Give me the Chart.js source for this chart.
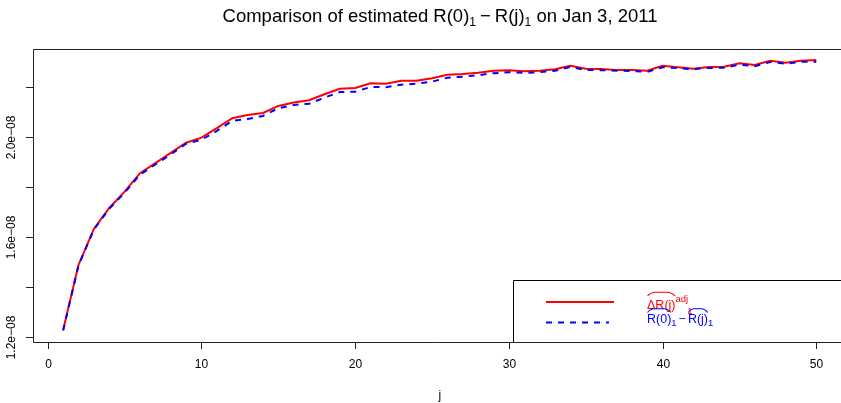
<!DOCTYPE html>
<html>
<head>
<meta charset="utf-8">
<script src="https://cdn.jsdelivr.net/npm/chart.js@4"></script>
<style>
  html, body { margin: 0; padding: 0; background: #fff; }
  canvas { display: block; }
</style>
</head>
<body>
<canvas id="c" width="841" height="403"></canvas>
<script>
// values in units of 1e-08
const lags = [1, 2, 3, 4, 5, 6, 7, 8, 9, 10, 11, 12, 13, 14, 15, 16, 17, 18, 19, 20,
  21, 22, 23, 24, 25, 26, 27, 28, 29, 30, 31, 32, 33, 34, 35, 36, 37, 38, 39, 40,
  41, 42, 43, 44, 45, 46, 47, 48, 49, 50];
const adjDiff = [1.227, 1.487, 1.631, 1.715, 1.780, 1.854, 1.894, 1.935, 1.976, 1.996,
  2.034, 2.074, 2.087, 2.095, 2.123, 2.137, 2.146, 2.170, 2.192, 2.195,
  2.214, 2.212, 2.224, 2.224, 2.234, 2.248, 2.251, 2.256, 2.264, 2.266,
  2.262, 2.264, 2.270, 2.284, 2.272, 2.271, 2.267, 2.267, 2.264, 2.284,
  2.278, 2.272, 2.279, 2.280, 2.294, 2.287, 2.304, 2.296, 2.304, 2.307];
const rawDiff = [1.225, 1.485, 1.629, 1.712, 1.776, 1.848, 1.889, 1.929, 1.972, 1.988,
  2.023, 2.063, 2.071, 2.083, 2.114, 2.127, 2.132, 2.156, 2.179, 2.180,
  2.199, 2.198, 2.208, 2.212, 2.220, 2.236, 2.240, 2.246, 2.254, 2.258,
  2.255, 2.258, 2.264, 2.279, 2.267, 2.266, 2.264, 2.263, 2.259, 2.278,
  2.274, 2.270, 2.275, 2.276, 2.288, 2.282, 2.299, 2.292, 2.300, 2.300];

const xTicks = [0, 10, 20, 30, 40, 50];
const yTicks = [1.2, 1.4, 1.6, 1.8, 2.0, 2.2];
const yTickLabels = ["1.2e\u221208", "", "1.6e\u221208", "", "2.0e\u221208", ""];

const FONT = "'Liberation Sans', Arial, sans-serif";
const RED = "#ff0000";
const BLUE = "#0000ff";

// draw text pieces left to right, returns end x
function drawRich(ctx, x, y, parts) {
  parts.forEach(p => {
    ctx.font = `${p.size}px ${FONT}`;
    const w = ctx.measureText(p.t).width;
    ctx.fillText(p.t, x, y + (p.dy || 0));
    if (p.hat) drawHat(ctx, x, y - p.hat, w);
    x += w + (p.gap || 0);
  });
  return x;
}

function richWidth(ctx, parts) {
  let w = 0;
  parts.forEach(p => {
    ctx.font = `${p.size}px ${FONT}`;
    w += ctx.measureText(p.t).width + (p.gap || 0);
  });
  return w;
}

// widehat over a run of text, y = bottom of the hat
function drawHat(ctx, x, y, w) {
  ctx.save();
  ctx.lineWidth = 1.1;
  ctx.strokeStyle = ctx.fillStyle;
  ctx.beginPath();
  ctx.moveTo(x + 0.5, y);
  ctx.quadraticCurveTo(x + w * 0.12, y - 3.5, x + w * 0.3, y - 3.8);
  ctx.lineTo(x + w * 0.7, y - 3.8);
  ctx.quadraticCurveTo(x + w * 0.88, y - 3.5, x + w - 0.5, y);
  ctx.stroke();
  ctx.restore();
}

const rStyle = {
  id: "rStyle",
  beforeDraw(chart) {
    const ctx = chart.ctx;
    ctx.save();
    ctx.fillStyle = "#fff";
    ctx.fillRect(0, 0, chart.width, chart.height);
    ctx.restore();
  },
  afterDraw(chart) {
    const ctx = chart.ctx;
    const a = chart.chartArea;
    const xs = chart.scales.x, ys = chart.scales.y;
    ctx.save();
    ctx.strokeStyle = "#222";
    ctx.fillStyle = "#000";
    ctx.lineWidth = 1;

    // box (right side lies past the canvas edge)
    ctx.beginPath();
    ctx.moveTo(chart.width, a.top + 0.5);
    ctx.lineTo(a.left + 0.5, a.top + 0.5);
    ctx.lineTo(a.left + 0.5, a.bottom + 0.5);
    ctx.lineTo(chart.width, a.bottom + 0.5);
    ctx.stroke();

    // x axis
    ctx.font = `12px ${FONT}`;
    ctx.textAlign = "center";
    ctx.textBaseline = "middle";
    xTicks.forEach(t => {
      const px = Math.round(xs.getPixelForValue(t)) + 0.5;
      ctx.beginPath();
      ctx.moveTo(px, a.bottom);
      ctx.lineTo(px, a.bottom + 7);
      ctx.stroke();
      ctx.fillText(String(t), px, 365);
    });
    ctx.fillText("j", (a.left + xs.getPixelForValue(51.96)) / 2, 396);

    // y axis
    yTicks.forEach((t, i) => {
      const py = Math.round(ys.getPixelForValue(t)) + 0.5;
      ctx.beginPath();
      ctx.moveTo(a.left, py);
      ctx.lineTo(a.left - 7, py);
      ctx.stroke();
      if (yTickLabels[i]) {
        ctx.save();
        ctx.translate(12, py);
        ctx.rotate(-Math.PI / 2);
        ctx.fillText(yTickLabels[i], 0, 0);
        ctx.restore();
      }
    });

    // title
    ctx.textAlign = "left";
    ctx.textBaseline = "alphabetic";
    const title = [
      { t: "Comparison of estimated R(0)", size: 18.5 },
      { t: "1", size: 12, dy: 4, gap: 4 },
      { t: "\u2212", size: 18.5, gap: 4 },
      { t: "R(j)", size: 18.5 },
      { t: "1", size: 12, dy: 4 },
      { t: " on Jan 3, 2011", size: 18.5 }
    ];
    const tw = richWidth(ctx, title);
    drawRich(ctx, 440 - tw / 2, 22, title);

    // legend
    ctx.strokeStyle = "#000";
    ctx.beginPath();
    ctx.moveTo(chart.width, 280.5);
    ctx.lineTo(513.5, 280.5);
    ctx.lineTo(513.5, a.bottom);
    ctx.stroke();

    ctx.lineWidth = 2;
    ctx.strokeStyle = RED;
    ctx.beginPath();
    ctx.moveTo(546, 302);
    ctx.lineTo(614, 302);
    ctx.stroke();
    ctx.strokeStyle = BLUE;
    ctx.setLineDash([6, 6]);
    ctx.beginPath();
    ctx.moveTo(546, 322.5);
    ctx.lineTo(609, 322.5);
    ctx.stroke();
    ctx.setLineDash([]);

    ctx.fillStyle = RED;
    let ex = drawRich(ctx, 647, 309, [{ t: "\u0394R(j)", size: 12.5, hat: 13 }]);
    ex = drawRich(ctx, ex, 302, [{ t: "adj", size: 9.5 }]);
    drawRich(ctx, ex - 1, 314, [{ t: "1", size: 9.5 }]);

    ctx.fillStyle = BLUE;
    drawRich(ctx, 647, 323, [
      { t: "R(0)", size: 12.5, hat: 10.5 },
      { t: "1", size: 9.5, dy: 3, gap: 2 },
      { t: "\u2212", size: 12.5, gap: 2 },
      { t: "R(j)", size: 12.5, hat: 10.5 },
      { t: "1", size: 9.5, dy: 3 }
    ]);
    ctx.restore();
  }
};

new Chart(document.getElementById("c"), {
  type: "line",
  data: {
    datasets: [
      {
        label: "R(0)1 - R(j)1",
        data: lags.map((j, i) => ({ x: j, y: rawDiff[i] })),
        borderColor: BLUE,
        borderWidth: 2,
        borderDash: [6, 6],
        pointRadius: 0,
        tension: 0
      },
      {
        label: "dR(j)adj1",
        data: lags.map((j, i) => ({ x: j, y: adjDiff[i] })),
        borderColor: RED,
        borderWidth: 2,
        pointRadius: 0,
        tension: 0
      }
    ]
  },
  options: {
    responsive: false,
    animation: false,
    layout: { padding: { left: 33, top: 49, right: 1, bottom: 61 } },
    scales: {
      x: { type: "linear", min: -0.96, max: 51.54, display: false },
      y: { type: "linear", min: 1.1788, max: 2.3508, display: false }
    },
    plugins: {
      legend: { display: false },
      tooltip: { enabled: false },
      title: { display: false }
    }
  },
  plugins: [rStyle]
});
</script>
</body>
</html>
